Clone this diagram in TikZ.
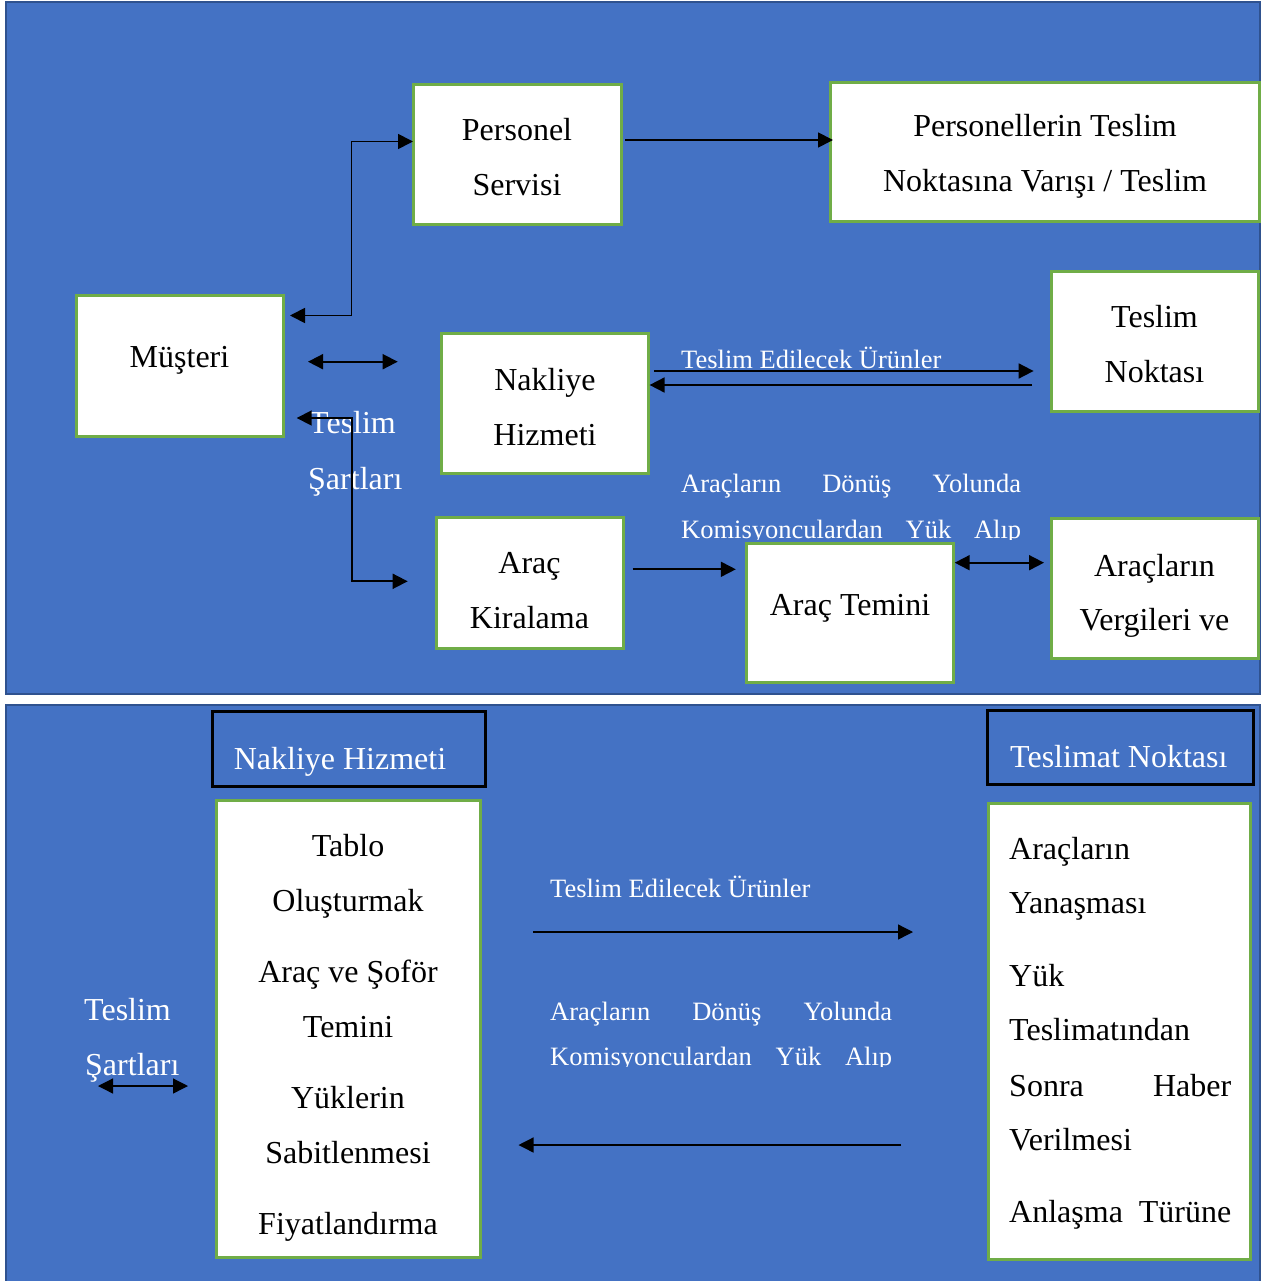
\documentclass[tikz,border=0pt]{standalone}
\usepackage{fontspec}
\setmainfont{Liberation Serif}
\usetikzlibrary{arrows.meta}
\definecolor{panelblue}{HTML}{4472C4}
\definecolor{paneledge}{HTML}{2F528F}
\definecolor{boxgreen}{HTML}{70AD47}
\newcommand\fbig{\fontsize{32}{38}\selectfont}
\newcommand\fsmall{\fontsize{26.5}{32}\selectfont}
\begin{document}
\begin{tikzpicture}[x=1pt,y=-1pt,
  wbox/.style={draw=boxgreen,line width=3pt,fill=white,inner sep=0pt},
  hbox/.style={draw=black,line width=3pt,fill=panelblue,inner sep=0pt},
  txt/.style={anchor=base,inner sep=0pt,font=\fbig,text=black},
  wtxt/.style={anchor=base west,inner sep=0pt,font=\fbig,text=white},
  stxt/.style={anchor=base west,inner sep=0pt,font=\fsmall,text=white},
  ltxt/.style={anchor=base west,inner sep=0pt,font=\fbig,text=black},
  arr/.style={line width=1.8pt,-{Triangle[length=15pt,width=15pt]}},
  dblarr/.style={line width=1.8pt,{Triangle[length=15pt,width=15pt]}-{Triangle[length=15pt,width=15pt]}},
  arrb/.style={line width=1.3pt,-{Triangle[length=15pt,width=15pt]}},
  dblarrb/.style={line width=1.3pt,{Triangle[length=15pt,width=15pt]}-{Triangle[length=15pt,width=15pt]}}]
\useasboundingbox (0,0) rectangle (1263,1281);
\fill[white] (0,0) rectangle (1263,1281);
% panels
\draw[fill=panelblue,draw=paneledge,line width=2pt] (6,2) rectangle (1260,694);
\fill[panelblue] (6,705) rectangle (1260,1281);
\draw[paneledge,line width=2pt] (6,1281) -- (6,705) -- (1260,705) -- (1260,1281);

% ---------- top panel boxes ----------
\node[wbox,minimum width=208pt,minimum height=140pt] (pers) at (517,155) {};
\node[wbox,minimum width=429pt,minimum height=139pt] (persT) at (1044.5,152.5) {};
\node[wbox,minimum width=207pt,minimum height=141pt] (mus) at (179.5,365.5) {};
\node[wbox,minimum width=207pt,minimum height=140pt] (nak) at (544.5,403) {};
\node[wbox,minimum width=207pt,minimum height=140pt] (tnok) at (1154.5,341) {};
\node[wbox,minimum width=187pt,minimum height=131pt] (kira) at (529.5,582.5) {};
\node[wbox,minimum width=207pt,minimum height=139pt] (temin) at (849.5,612.5) {};
\node[wbox,minimum width=207pt,minimum height=140pt] (vergi) at (1154.5,588) {};

\node[txt] (t1) at (517,141) {Personel};
\node[txt] (t2) at (517,196) {Servisi};
\node[txt] (t3) at (1045,137) {Personellerin Teslim};
\node[txt] (t4) at (1045,192) {Noktasına Varışı / Teslim};
\node[txt] (t5) at (179.5,367) {Müşteri};
\node[txt] (t6) at (545,390) {Nakliye};
\node[txt] (t7) at (545,445) {Hizmeti};
\node[txt] (t8) at (1154.5,327) {Teslim};
\node[txt] (t9) at (1154.5,382) {Noktası};
\node[txt] (t10) at (529.5,573) {Araç};
\node[txt] (t11) at (529.5,628) {Kiralama};
\node[txt] (t12) at (850,615) {Araç Temini};
\node[txt] (t13) at (1154.5,576) {Araçların};
\node[txt] (t14) at (1154.5,630) {Vergileri ve};

\node[wtxt] (w1) at (309,433) {Teslim};
\node[wtxt] (w2) at (308,489) {Şartları};
\node[stxt] (s1) at (681,368) {Teslim Edilecek Ürünler};
\node[stxt] (s2) at (681,492) {\makebox[340pt][s]{Araçların\hfill Dönüş\hfill Yolunda}};
\begin{scope}
\clip (0,0) rectangle (1263,539);
\node[stxt] (s3) at (681,538) {\makebox[340pt][s]{Komisyonculardan\hfill Yük\hfill Alıp}};
\end{scope}

% ---------- top connectors ----------
\coordinate (c1a) at (290,315.5);
\coordinate (c1k) at (351.5,315.5);
\coordinate (c1b) at (413,141.5);
\draw[dblarr] (c1a) -- (c1k) |- (c1b);
\coordinate (c2a) at (308,361.7);
\coordinate (c2b) at (397.7,361.7);
\draw[dblarr] (c2a) -- (c2b);
\coordinate (c3a) at (296.7,418);
\coordinate (c3k) at (352.3,418);
\coordinate (c3b) at (407.7,581.3);
\draw[dblarr] (c3a) -- (c3k) |- (c3b);
\coordinate (c4a) at (625,140);
\coordinate (c4b) at (833,140);
\draw[arr] (c4a) -- (c4b);
\coordinate (c5a) at (654,371);
\coordinate (c5b) at (1033.6,371);
\draw[arr] (c5a) -- (c5b);
\coordinate (c6a) at (1032,385);
\coordinate (c6b) at (649.6,385);
\draw[arr] (c6a) -- (c6b);
\coordinate (c7a) at (632.7,569.3);
\coordinate (c7b) at (735.8,569.3);
\draw[arr] (c7a) -- (c7b);
\coordinate (c8a) at (954.7,562.7);
\coordinate (c8b) at (1044,562.7);
\draw[dblarr] (c8a) -- (c8b);

% ---------- bottom panel ----------
\node[hbox,minimum width=273pt,minimum height=75pt] (hdr1) at (348.5,748.5) {};
\node[wbox,minimum width=264pt,minimum height=457pt] (box1) at (348,1028.5) {};
\node[hbox,minimum width=266pt,minimum height=74pt] (hdr2) at (1120,747) {};
\node[wbox,minimum width=262pt,minimum height=456pt] (box2) at (1119,1031) {};

\node[txt,text=white] (h1) at (340,769) {Nakliye Hizmeti};
\node[wtxt] (h2) at (1010,767) {Teslimat Noktası};

\node[txt] (b1) at (348,856) {Tablo};
\node[txt] (b2) at (348,911) {Oluşturmak};
\node[txt] (b3) at (348,982) {Araç ve Şoför};
\node[txt] (b4) at (348,1037) {Temini};
\node[txt] (b5) at (348,1108) {Yüklerin};
\node[txt] (b6) at (348,1163) {Sabitlenmesi};
\node[txt] (b7) at (348,1234) {Fiyatlandırma};

\node[ltxt] (d1) at (1009,859) {Araçların};
\node[ltxt] (d2) at (1009,913) {Yanaşması};
\node[ltxt] (d3) at (1009,986) {Yük};
\node[ltxt] (d4) at (1009,1040) {Teslimatından};
\node[ltxt] (d5) at (1009,1096) {\makebox[222pt][s]{Sonra\hfill Haber}};
\node[ltxt] (d6) at (1009,1150) {Verilmesi};
\node[ltxt] (d7) at (1009,1222) {\makebox[222pt][s]{Anlaşma\hfill Türüne}};

\node[wtxt] (w3) at (84,1020) {Teslim};
\node[wtxt] (w4) at (85,1075) {Şartları};
\node[stxt] (s4) at (550,897) {Teslim Edilecek Ürünler};
\node[stxt] (s5) at (550,1020) {\makebox[342pt][s]{Araçların\hfill Dönüş\hfill Yolunda}};
\begin{scope}
\clip (0,0) rectangle (1263,1066);
\node[stxt] (s6) at (550,1065) {\makebox[342pt][s]{Komisyonculardan\hfill Yük\hfill Alıp}};
\end{scope}

\coordinate (e1a) at (533,932);
\coordinate (e1b) at (913,932);
\draw[arrb] (e1a) -- (e1b);
\coordinate (e2a) at (901,1145);
\coordinate (e2b) at (518.5,1145);
\draw[arrb] (e2a) -- (e2b);
\coordinate (e3a) at (98,1086);
\coordinate (e3b) at (188,1086);
\draw[dblarrb] (e3a) -- (e3b);
\end{tikzpicture}
\end{document}
